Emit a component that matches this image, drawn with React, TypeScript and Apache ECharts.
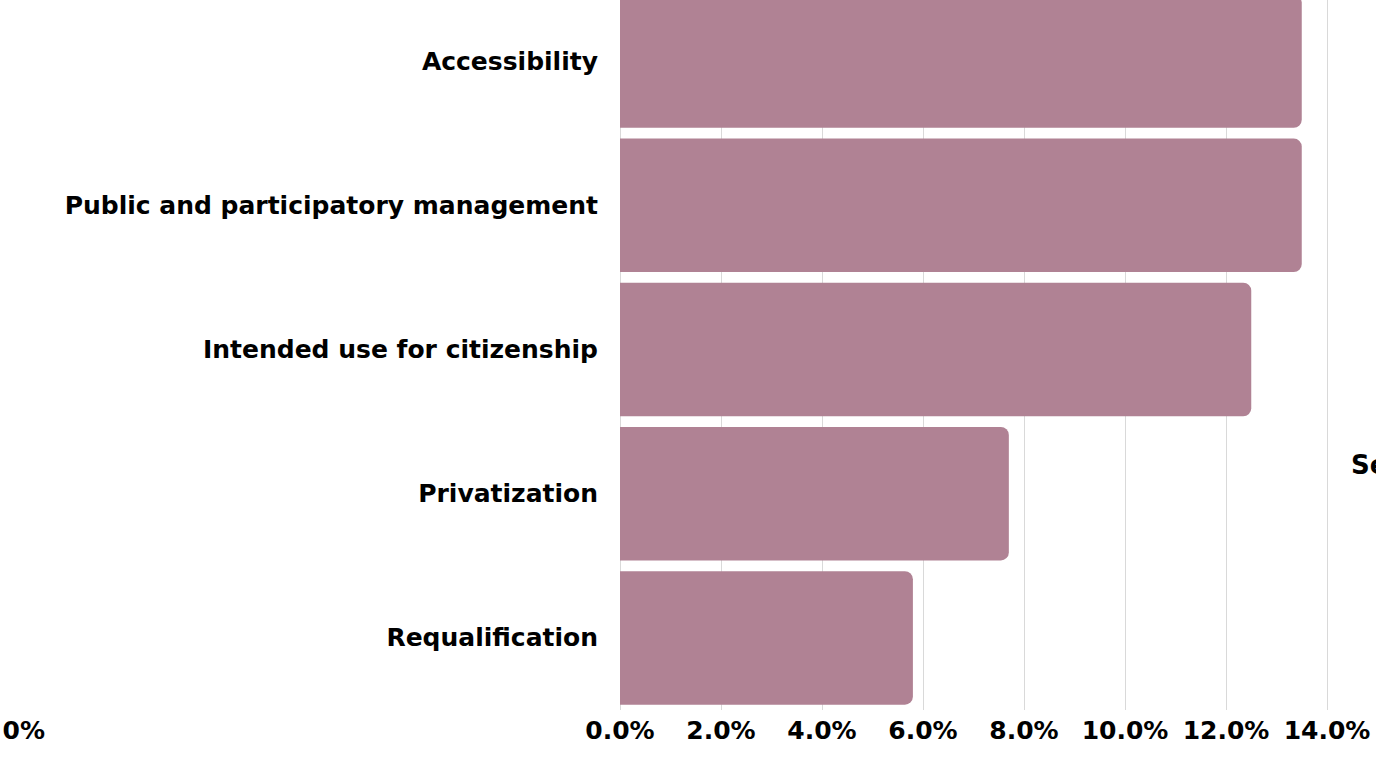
import React, { useEffect, useRef } from "react";
import * as echarts from "echarts";

const categories = [
  "Accessibility",
  "Public and participatory management",
  "Intended use for citizenship",
  "Privatization",
  "Requalification",
];
const values = [13.5, 13.5, 12.5, 7.7, 5.8];
const axisMin = 0;
const axisMax = 14;
const axisInterval = 2;
const leftFragment = "0%";
const rightFragment = "Se";

const FONT = "'DejaVu Sans', sans-serif";
const SHIFT = 11; // container is moved up so the first bar is cut off at the top

export default function App() {
  const ref = useRef<HTMLDivElement>(null);
  useEffect(() => {
    if (!ref.current) return;
    const chart = echarts.init(ref.current, null, { renderer: "svg" });
    chart.setOption({
      animation: false,
      backgroundColor: "#ffffff",
      grid: { left: 620, width: 707, top: 0, height: 721, containLabel: false },
      xAxis: {
        type: "value",
        min: axisMin,
        max: axisMax,
        interval: axisInterval,
        axisLine: { show: false },
        axisTick: { show: false },
        splitLine: { show: true, lineStyle: { color: "#d9d9d9", width: 1 } },
        axisLabel: {
          margin: 8,
          color: "#000",
          fontFamily: FONT,
          fontWeight: "bold",
          fontSize: 25,
          formatter: (v: number) => v.toFixed(1) + "%",
        },
      },
      yAxis: {
        type: "category",
        data: categories,
        inverse: true,
        axisLine: { show: false },
        axisTick: { show: false },
        axisLabel: {
          margin: 22,
          color: "#000",
          fontFamily: FONT,
          fontWeight: "bold",
          fontSize: 25,
        },
      },
      series: [
        {
          type: "bar",
          data: values,
          barCategoryGap: "7.4%",
          itemStyle: { color: "#b08294", borderRadius: [0, 8, 8, 0] },
        },
      ],
      graphic: [
        {
          type: "text",
          x: 45,
          y: 730 + SHIFT,
          style: {
            text: leftFragment,
            fill: "#000",
            align: "right",
            verticalAlign: "middle",
            font: "bold 25px 'DejaVu Sans', sans-serif",
          },
        },
        {
          type: "text",
          x: 1351,
          y: 465 + SHIFT,
          style: {
            text: rightFragment,
            fill: "#000",
            align: "left",
            verticalAlign: "middle",
            font: "bold 26px 'DejaVu Sans', sans-serif",
          },
        },
      ],
    });
    return () => chart.dispose();
  }, []);
  return (
    <div
      ref={ref}
      style={{ position: "fixed", left: 0, top: -SHIFT, width: 1376, height: 757 + SHIFT }}
    />
  );
}
